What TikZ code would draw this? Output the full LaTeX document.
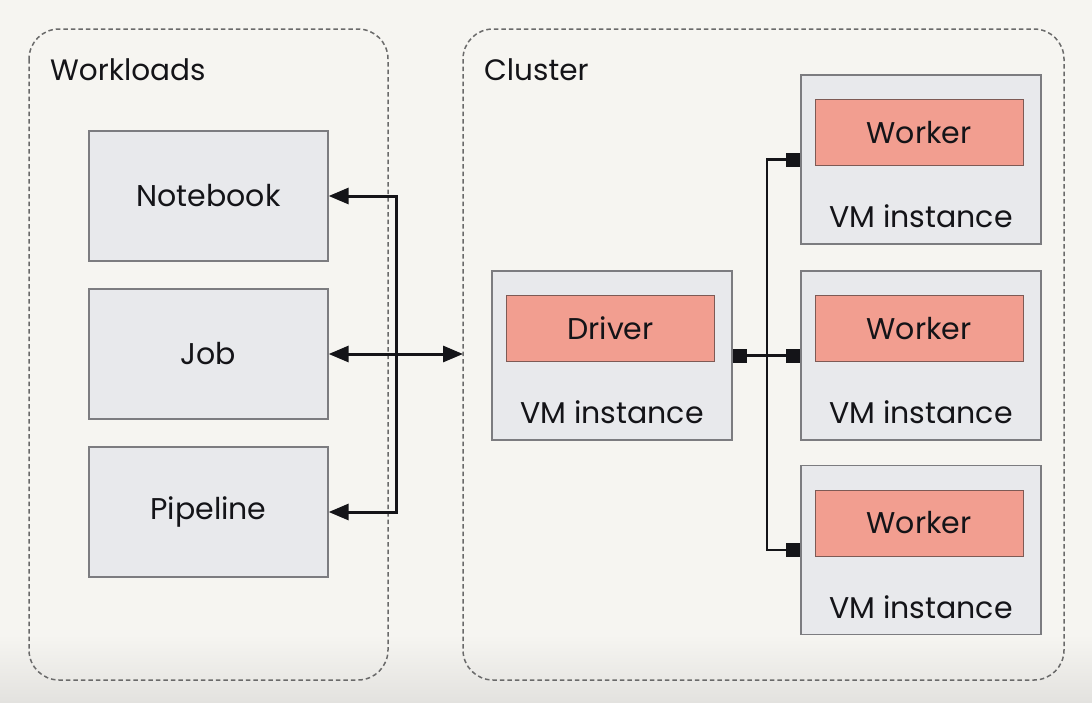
\documentclass[tikz,border=0pt]{standalone}
\usepackage{fontspec}
\setmainfont{Poppins}
\usetikzlibrary{arrows.meta}
\definecolor{bg}{HTML}{F6F5F1}
\definecolor{bgdark}{HTML}{E3E2DF}
\definecolor{boxfill}{HTML}{E8E9EC}
\definecolor{boxline}{HTML}{7C7C80}
\definecolor{redfill}{HTML}{F29E90}
\definecolor{redline}{HTML}{7E5A55}
\definecolor{dashc}{HTML}{6A6A6A}
\definecolor{ink}{HTML}{141418}
\tikzset{
  grp/.style={draw=dashc, line width=1.5pt, dash pattern=on 4.5pt off 3pt, rounded corners=30pt},
  wl/.style={draw=boxline, fill=boxfill, line width=1.3pt, minimum width=239pt, minimum height=130pt, inner sep=0pt, font=\fontsize{30}{34}\selectfont, text=ink},
  vm/.style={draw=boxline, fill=boxfill, line width=1.3pt, minimum width=240pt, minimum height=169pt, inner sep=0pt},
  role/.style={draw=redline, fill=redfill, line width=1pt, minimum width=208pt, minimum height=66pt, inner sep=0pt, font=\fontsize{30}{34}\selectfont, text=ink},
  vmtxt/.style={font=\fontsize{30}{34}\selectfont, text=ink, inner sep=0pt},
  title/.style={font=\fontsize{29.5}{34}\selectfont, text=ink, inner sep=0pt, anchor=west},
  conn/.style={draw=ink, line width=3pt},
  mytri/.tip={Triangle[length=20pt,width=16pt]},
  mysq/.tip={Square[length=14pt,width=14pt]}
}
\begin{document}
\begin{tikzpicture}[x=1pt,y=-1pt]
\fill[bg] (0,0) rectangle (1092,702);
\shade[top color=bg, bottom color=bgdark] (0,635) rectangle (1092,702);
\useasboundingbox (0,0) rectangle (1092,702);
% groups
\draw[grp] (29,29) rectangle (388,680);
\node[title] (wlt) at (50,70) {Workloads};
\draw[grp] (463,29) rectangle (1064,680);
\coordinate (clw) at (463,354);
\node[title] (clt) at (484,70) {Cluster};
% workloads
\node[wl] (nb) at (208.5,196) {Notebook};
\node[wl] (job) at (208.5,354) {Job};
\node[wl] (pl) at (208.5,512) {Pipeline};
% driver
\node[vm] (dvm) at (612,355.5) {};
\node[role] (drv) at (610.5,328.5) {Driver};
\node[vmtxt] (dtx) at (612,412) {VM instance};
% workers
\foreach \i/\y in {1/159.5, 2/355.5, 3/550} {
  \node[vm] (w\i) at (921,\y) {};
  \node[role] (r\i) at (919,\y-27) {Worker};
  \node[vmtxt] (t\i) at (921,\y+57) {VM instance};
}
% left connectors
\coordinate (bus) at (396,354);
\draw[conn, mytri-] (nb.east) -| (bus);
\draw[conn, mytri-] (pl.east) -| (bus);
\draw[conn, mytri-mytri] (job.east) -- (clw);
% right connectors
\coordinate (tree) at (767,355.5);
\draw[conn, line width=2.5pt, mysq-mysq] (dvm.east) -- (w2.west);
\draw[conn, line width=2.5pt, -mysq] (tree) |- (w1.west);
\draw[conn, line width=2.5pt, -mysq] (tree) |- (w3.west);
\end{tikzpicture}
\end{document}
